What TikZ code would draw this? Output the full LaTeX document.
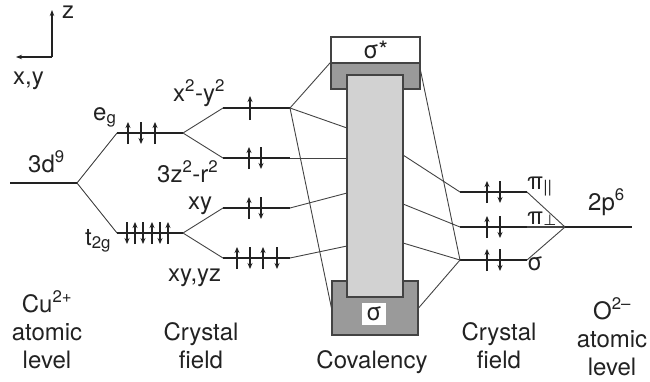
\documentclass[tikz,border=0pt]{standalone}
\usepackage{fontspec}
\setmainfont{TeX Gyre Heros}
\newfontfamily\symf{DejaVu Sans}
\usepackage{tikz}
\usetikzlibrary{arrows.meta,calc}
\definecolor{cK}{HTML}{222222}
\definecolor{cG}{HTML}{9A9A9A}
\definecolor{cL}{HTML}{D2D2D2}
\tikzset{
  lbl/.style={font=\fontsize{24}{28}\selectfont,inner sep=0pt,text=cK},
  lvl/.style={line width=2.6pt,cK},
  link/.style={line width=0.9pt,cK!85},
  spin/.style={-{Stealth[length=6pt,width=5pt]},line width=1.4pt,cK},
  axis/.style={-{Stealth[length=6pt,width=4.5pt]},line width=1.2pt,cK},
  box/.style={draw=cK!85,line width=1.1pt,inner sep=0pt},
}
\newcommand{\sx}[1]{\textsuperscript{#1}}
\newcommand{\bx}[1]{\textsubscript{#1}}

\begin{document}
\begin{tikzpicture}[x=1pt,y=-1pt]
  \useasboundingbox (0,0) rectangle (650,381);
  \coordinate (o) at (52,57);
  \coordinate (az) at (52,10);
  \coordinate (ax) at (16,57);
  \draw[axis] (o) -- (az);
  \draw[axis] (o) -- (ax);
  \node[lbl,anchor=base west](zl) at (62,18){z};
  \node[lbl,anchor=base west](xyl) at (13,84){x,y};

  \coordinate (d0) at (10,183);  \coordinate (d1) at (77,183);
  \coordinate (egl) at (117,133); \coordinate (egr) at (183,133);
  \coordinate (tgl) at (117,233); \coordinate (tgr) at (183,233);
  \coordinate (x2l) at (223,108); \coordinate (x2r) at (290,108);
  \coordinate (z2l) at (223,158); \coordinate (z2r) at (290,158);
  \coordinate (xyl) at (223,208); \coordinate (xyr) at (290,208);
  \coordinate (xzl) at (223,258); \coordinate (xzr) at (290,258);
  \coordinate (pal) at (460,192); \coordinate (par) at (527,192);
  \coordinate (ppl) at (460,227); \coordinate (ppr) at (527,227);
  \coordinate (sgl) at (460,260); \coordinate (sgr) at (527,260);
  \coordinate (p0) at (565,227);  \coordinate (p1) at (632,227);

  \draw[link] (d1) -- (egl);
  \draw[link] (d1) -- (tgl);
  \draw[link] (egr) -- (x2l);
  \draw[link] (egr) -- (z2l);
  \draw[link] (tgr) -- (xyl);
  \draw[link] (tgr) -- (xzl);
  \draw[link] (par) -- (p0);
  \draw[link] (sgr) -- (p0);

  \draw[lvl] (d0) -- (d1);
  \draw[lvl] (egl) -- (egr);
  \draw[lvl] (tgl) -- (tgr);
  \draw[lvl] (x2l) -- (x2r);
  \draw[lvl] (z2l) -- (z2r);
  \draw[lvl] (xyl) -- (xyr);
  \draw[lvl] (xzl) -- (xzr);
  \draw[lvl] (pal) -- (par);
  \draw[lvl] (sgl) -- (sgr);
  \draw[lvl] (ppl) -- (ppr);
  \draw[link,line width=1.4pt] (ppr) -- (p0);
  \draw[lvl] (p0) -- (p1);

  \foreach \x/\s in {128/1,141/-1,155/1}
    \draw[spin] (\x,{133+11*(\s)}) -- (\x,{133-11*(\s)});
  \foreach \x/\s in {127/-1,135/1,143/-1,152/1,160/-1,168/1}
    \draw[spin] (\x,{233+11*(\s)}) -- (\x,{233-11*(\s)});
  \draw[spin] (250,120) -- (250,96);
  \foreach \y in {158,208}{
    \draw[spin] (249,\y+11) -- (249,\y-11);
    \draw[spin] (261,\y-11) -- (261,\y+11);
  }
  \foreach \x/\s in {237/1,250/-1,263/1,277/-1}
    \draw[spin] (\x,{258+11*(\s)}) -- (\x,{258-11*(\s)});
  \foreach \y in {192,227,260}{
    \draw[spin] (487,\y+11) -- (487,\y-11);
    \draw[spin] (500,\y-11) -- (500,\y+11);
  }

  \node[box,fill=cG,minimum width=89pt,minimum height=26pt](topd) at (375.5,76){};
  \node[box,fill=cG,minimum width=86pt,minimum height=54pt](botd) at (375,308){};
  \coordinate (cl1) at (347,128);
  \coordinate (cl2) at (347,158);
  \coordinate (cl3) at (347,193);
  \coordinate (cl4) at (347,246);
  \coordinate (cr1) at (403,155);
  \coordinate (cr2) at (403,204);
  \coordinate (cr3) at (403,243);
  \coordinate (tr) at (420,68);
  \draw[link] (x2r) -- (topd.north west);
  \draw[link] (x2r) -- (cl1);
  \draw[link] (x2r) -- (botd.west);
  \draw[link] (z2r) -- (cl2);
  \draw[link] (xyr) -- (cl3);
  \draw[link] (xzr) -- (cl4);
  \draw[link] (tr) -- (sgl);
  \draw[link] (botd.east) -- (sgl);
  \draw[link] (cr1) -- (pal);
  \draw[link] (cr2) -- (ppl);
  \draw[link] (cr3) -- (sgl);
  \node[box,fill=cL,minimum width=56pt,minimum height=222pt](core) at (375,186){};
  \node[box,lbl,fill=white,minimum width=89pt,minimum height=26pt](sst) at (375.5,50){σ*};
  \node[lbl,fill=white,minimum width=24pt,minimum height=22pt](sb) at (374,314){σ};

  \node[lbl,anchor=base west](l3d) at (28,172){3d\sx{9}};
  \node[lbl,anchor=base west](leg) at (93,120){e\bx{g}};
  \node[lbl,anchor=base west](ltg) at (85,245){t\bx{2g}};
  \node[lbl,anchor=base west](lx2) at (173,101){x\sx{2}-y\sx{2}};
  \node[lbl,anchor=base west](lz2) at (157,182){3z\sx{2}-r\sx{2}};
  \node[lbl,anchor=base west](lxy) at (188,209){xy};
  \node[lbl,anchor=base west](lxz) at (168,281){xy,yz};
  \node[lbl,anchor=base west](lpa) at (527,189){π\bx{||}};
  \node[lbl,anchor=base west](lpp) at (527,224){π\raisebox{-1pt}{\symf\fontsize{15}{15}\selectfont ⊥}};
  \node[lbl,anchor=base west](lsg) at (527,270){σ};
  \node[lbl,anchor=base west](l2p) at (588,210){2p\sx{6}};

  \node[lbl,align=center,anchor=base](cu) at (47,368){Cu\sx{2+}\\atomic\\level};
  \node[lbl,align=center,anchor=base](cfl) at (201,368){Crystal\\field};
  \node[lbl,anchor=base](cov) at (372,368){Covalency};
  \node[lbl,align=center,anchor=base](cfr) at (499,368){Crystal\\field};
  \node[lbl,align=center,anchor=base](ox) at (612,375){O\sx{2–}\\atomic\\level};
\end{tikzpicture}
\end{document}
